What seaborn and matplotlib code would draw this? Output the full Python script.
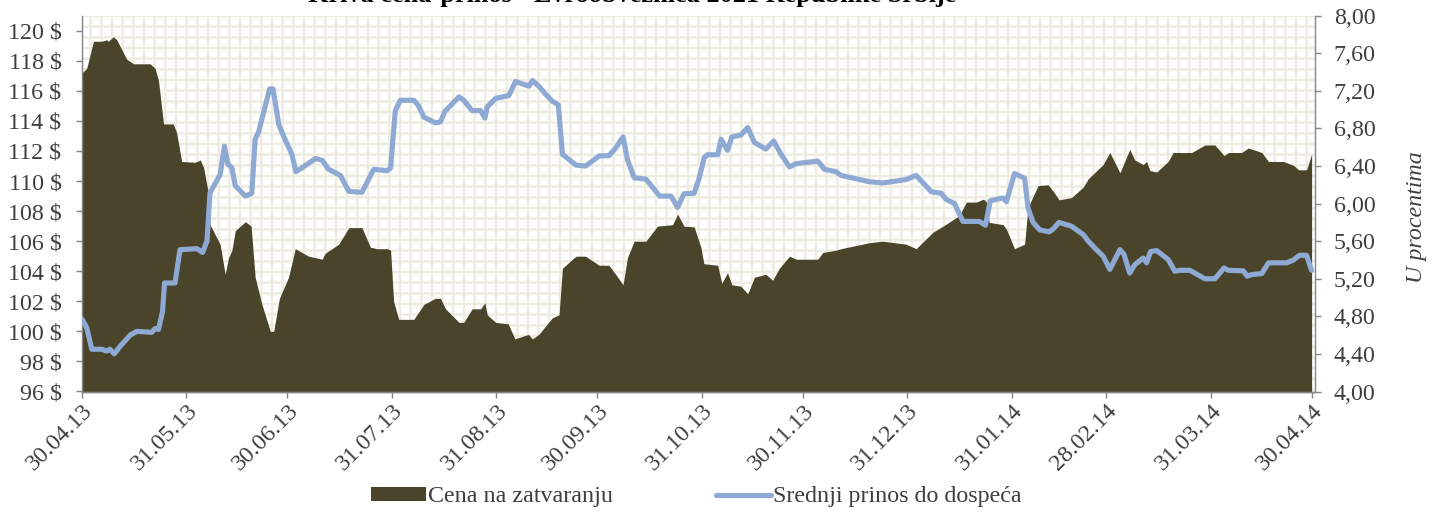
import pandas as pd
import seaborn as sns
import matplotlib.pyplot as plt
import matplotlib.dates as mdates
from matplotlib.patches import Rectangle, Patch
from matplotlib.lines import Line2D
from matplotlib.ticker import FuncFormatter, MultipleLocator

# dani od 30.04.2013
start = pd.Timestamp("2013-04-30")

price_day = [0, 1.4, 3.4, 5.9, 7.3, 7.8, 9.3, 10.3, 13.3, 15.3, 20.2, 21.7, 22.7, 24.2, 27.1,
             28.1, 29.6, 33.6, 35.1, 36.1, 37.5, 38.0, 41.0, 42.5, 43.5, 44.5, 45.5, 48.5, 50.2,
             51.4, 53.4, 55.9, 56.9, 58.6, 61.3, 63.3, 67.3, 71.3, 72.2, 76.2, 79.2, 83.1, 85.6,
             87.6, 90.6, 91.6, 92.5, 94.0, 98.5, 101.5, 104.9, 106.4, 107.9, 111.9, 113.3, 115.8,
             118.3, 119.6, 120.3, 122.8, 126.5, 128.5, 132.5, 133.7, 135.6, 139.6, 141.6, 142.6,
             146.6, 149.5, 153.5, 156.4, 158.4, 160.6, 161.9, 163.9, 167.4, 170.8, 175.3, 176.8,
             178.7, 181.7, 183.7, 184.6, 188.7, 189.9, 191.6, 192.9, 195.6, 197.6, 199.6, 203.0,
             205.0, 207.0, 210.0, 212.0, 218.4, 219.9, 223.8, 225.3, 233.7, 237.7, 244.6, 247.6,
             252.6, 255.6, 260.4, 262.5, 265.5, 267.6, 268.5, 269.3, 273.4, 274.4, 276.8, 279.8,
             280.8, 283.8, 286.8, 288.7, 290.0, 293.7, 297.2, 298.7, 303.1, 305.1, 308.1, 311.0,
             312.5, 315.0, 316.0, 317.0, 319.0, 322.4, 323.9, 325.9, 329.4, 333.3, 336.3, 339.0,
             340.3, 344.2, 346.2, 350.2, 352.2, 356.6, 359.6, 361.1, 363.5, 365]
price_val = [117.2, 117.5, 119.3, 119.3, 119.4, 119.3, 119.6, 119.4, 118.1, 117.8, 117.8, 117.5,
             116.7, 113.8, 113.8, 113.2, 111.3, 111.25, 111.4, 110.9, 109.2, 107.1, 105.8, 103.8,
             104.9, 105.4, 106.7, 107.3, 107.0, 103.6, 101.8, 100.0, 100.0, 102.2, 103.6, 105.5,
             105.0, 104.8, 105.2, 105.8, 106.9, 106.9, 105.6, 105.5, 105.5, 105.4, 102.0, 100.8,
             100.8, 101.8, 102.2, 102.2, 101.5, 100.6, 100.6, 101.5, 101.5, 101.9, 101.1, 100.6,
             100.5, 99.5, 99.8, 99.5, 99.8, 100.9, 101.1, 104.2, 105.0, 105.0, 104.4, 104.4, 103.8,
             103.1, 104.9, 106.0, 106.0, 107.0, 107.1, 107.8, 107.0, 106.95, 105.6, 104.5, 104.4,
             103.2, 103.9, 103.1, 103.0, 102.5, 103.6, 103.8, 103.4, 104.2, 105.0, 104.8, 104.8,
             105.25, 105.4, 105.5, 105.9, 106.0, 105.8, 105.5, 106.6, 107.0, 107.7, 108.6, 108.6,
             108.8, 108.6, 107.25, 107.1, 106.8, 105.5, 105.8, 108.25, 109.7, 109.75, 109.2,
             108.75, 108.9, 109.6, 110.15, 111.1, 111.9, 110.55, 112.1, 111.4, 111.1, 111.3, 110.7,
             110.6, 111.3, 111.9, 111.9, 111.9, 112.4, 112.4, 111.7, 111.9, 111.9, 112.2, 111.9,
             111.3, 111.3, 111.05, 110.75, 110.75, 111.8]

yield_day = [0, 1.4, 2.9, 5.9, 7.3, 8.3, 9.6, 11.3, 14.3, 16.3, 20.7, 21.7, 22.7, 23.9, 24.5,
             27.6, 29.1, 34.1, 35.8, 37.1, 38.0, 41.0, 42.3, 43.3, 44.5, 45.5, 48.5, 50.4, 51.4,
             52.4, 55.7, 56.7, 58.4, 59.8, 62.3, 63.5, 65.3, 69.3, 71.3, 73.2, 76.7, 79.2, 83.1,
             86.6, 90.6, 91.6, 93.0, 94.5, 98.5, 99.9, 101.5, 104.9, 106.4, 107.7, 111.9, 113.3,
             115.8, 118.3, 119.6, 120.3, 122.8, 126.7, 128.7, 132.7, 133.7, 135.6, 137.6, 139.6,
             141.4, 142.6, 146.6, 149.5, 153.5, 156.4, 158.4, 160.6, 161.9, 163.9, 167.4, 171.5,
             174.8, 176.8, 178.7, 181.7, 183.2, 184.7, 185.7, 188.7, 189.7, 191.6, 192.9, 195.6,
             197.6, 199.6, 203.0, 205.3, 207.5, 210.0, 212.0, 218.4, 220.4, 223.8, 225.3, 233.7,
             237.7, 244.6, 247.6, 252.1, 255.1, 256.5, 259.0, 261.5, 266.4, 268.2, 269.6, 273.4,
             274.4, 276.8, 279.8, 280.8, 282.3, 284.3, 287.1, 288.3, 290.0, 293.7, 297.2, 298.7,
             301.1, 303.1, 305.1, 308.1, 309.3, 311.0, 312.5, 315.0, 316.0, 317.2, 319.0, 322.4,
             324.4, 325.9, 328.9, 333.3, 336.3, 339.0, 340.3, 344.7, 345.9, 347.2, 350.2, 352.2,
             357.6, 359.6, 361.4, 363.5, 364.3, 365]
yield_val = [4.77, 4.68, 4.45, 4.45, 4.43, 4.45, 4.40, 4.48, 4.60, 4.64, 4.63, 4.67, 4.66, 4.85,
             5.155, 5.155, 5.51, 5.52, 5.48, 5.60, 6.115, 6.31, 6.61, 6.42, 6.38, 6.19, 6.08, 6.11,
             6.685, 6.76, 7.22, 7.22, 6.845, 6.72, 6.525, 6.34, 6.38, 6.48, 6.46, 6.365, 6.30, 6.13,
             6.12, 6.365, 6.35, 6.38, 6.99, 7.10, 7.10, 7.04, 6.92, 6.86, 6.87, 6.98, 7.136, 7.10,
             6.99, 6.99, 6.91, 7.03, 7.12, 7.15, 7.30, 7.25, 7.31, 7.25, 7.165, 7.09, 7.05, 6.525,
             6.41, 6.40, 6.507, 6.51, 6.59, 6.71, 6.47, 6.275, 6.26, 6.08, 6.08, 5.96, 6.105, 6.11,
             6.27, 6.49, 6.52, 6.52, 6.685, 6.567, 6.71, 6.73, 6.81, 6.65, 6.58, 6.667, 6.525, 6.39,
             6.425, 6.453, 6.365, 6.34, 6.30, 6.233, 6.22, 6.256, 6.30, 6.126, 6.11, 6.045, 6.0,
             5.81, 5.81, 5.77, 6.03, 6.06, 6.02, 6.32, 6.27, 5.955, 5.80, 5.72, 5.70, 5.73, 5.80,
             5.76, 5.67, 5.60, 5.51, 5.44, 5.30, 5.51, 5.46, 5.26, 5.35, 5.42, 5.37, 5.49, 5.50,
             5.405, 5.28, 5.29, 5.29, 5.20, 5.20, 5.315, 5.29, 5.285, 5.227, 5.245, 5.255, 5.37,
             5.37, 5.40, 5.45, 5.45, 5.36, 5.29]

tick_dates = ["2013-04-30", "2013-05-31", "2013-06-30", "2013-07-31", "2013-08-31",
              "2013-09-30", "2013-10-31", "2013-11-30", "2013-12-31", "2014-01-31",
              "2014-02-28", "2014-03-31", "2014-04-30"]

title = "Kriva cena-prinos - Evroobveznica 2021 Republike Srbije"
label_price = "Cena na zatvaranju"
label_yield = "Srednji prinos do dospeća"

price = pd.DataFrame({"datum": start + pd.to_timedelta(price_day, unit="D"), "cena": price_val})
yld = pd.DataFrame({"datum": start + pd.to_timedelta(yield_day, unit="D"), "prinos": yield_val})

c_area = "#4A452A"
c_line = "#8EA9D3"
c_grid = "#EEECE1"
c_axis = "#868686"
c_text = "#3F3F3F"

sns.set_theme(style="white")
plt.rcParams["font.family"] = ["Liberation Serif", "DejaVu Serif"]
plt.rcParams["hatch.linewidth"] = 2.7

DPI = 64
FS = 27
fig = plt.figure(figsize=(1433 / DPI, 516 / DPI), dpi=DPI)
ax = fig.add_axes([82 / 1433, 1 - 391.5 / 516, (1315 - 82) / 1433, (391.5 - 15.7) / 516])

# pozadina: sitna mreza
ax.add_patch(Rectangle((0, 0), 1, 1, transform=ax.transAxes, facecolor="white",
                       edgecolor=c_grid, hatch="+", linewidth=0, zorder=0))

ax.fill_between(price["datum"], 96, price["cena"], color=c_area, linewidth=0, zorder=2)
ax.set_ylim(96, 121)
ax.set_xlim(start, pd.Timestamp("2014-05-01"))
ax.yaxis.set_major_locator(MultipleLocator(2))
ax.yaxis.set_major_formatter(FuncFormatter(lambda v, p: f"{v:.0f} $" if v <= 120 else ""))
ax.set_xticks(pd.to_datetime(tick_dates))
ax.xaxis.set_major_formatter(mdates.DateFormatter("%d.%m.%y"))

ax2 = ax.twinx()
sns.lineplot(data=yld, x="datum", y="prinos", ax=ax2, color=c_line, linewidth=5.8, zorder=3)
ax2.set_ylim(4, 8)
ax2.yaxis.set_major_locator(MultipleLocator(0.4))
ax2.yaxis.set_major_formatter(FuncFormatter(lambda v, p: f"{v:.2f}".replace(".", ",")))
ax2.set_xlabel("")
ax2.set_ylabel("U procentima", fontsize=FS, style="italic", color=c_text)
ax2.yaxis.set_label_coords(1.074, 0.464)
ax.set_xlabel("")
ax.set_ylabel("")

for a in (ax, ax2):
    for s in a.spines.values():
        s.set_color(c_axis)
        s.set_linewidth(1.6)
    a.spines["top"].set_visible(False)
    a.tick_params(length=7, width=1.6, color=c_axis, labelsize=FS, labelcolor=c_text,
                  direction="out")
ax.spines["right"].set_visible(False)
ax2.spines["left"].set_visible(False)
ax.tick_params(axis="y", left=True, pad=16)
ax2.tick_params(axis="y", right=True, pad=14)
ax.tick_params(axis="x", bottom=True, pad=3)
plt.setp(ax.get_xticklabels(), rotation=45, ha="right", va="top", rotation_mode="anchor")

fig.text(0.441, 1 - 2 / 516, title, ha="center", va="baseline", fontsize=29.5,
         fontweight="bold", color="black")

handles = [Patch(facecolor=c_area, edgecolor="none"),
           Line2D([], [], color=c_line, linewidth=5.8)]
fig.legend(handles, [label_price, label_yield], loc="center", bbox_to_anchor=(0.486, 0.037),
           ncol=2, frameon=False, fontsize=FS, handlelength=2.3, handleheight=0.55,
           handletextpad=0.08, columnspacing=4.3, labelcolor=c_text)

fig.savefig("out.png", dpi=DPI)
